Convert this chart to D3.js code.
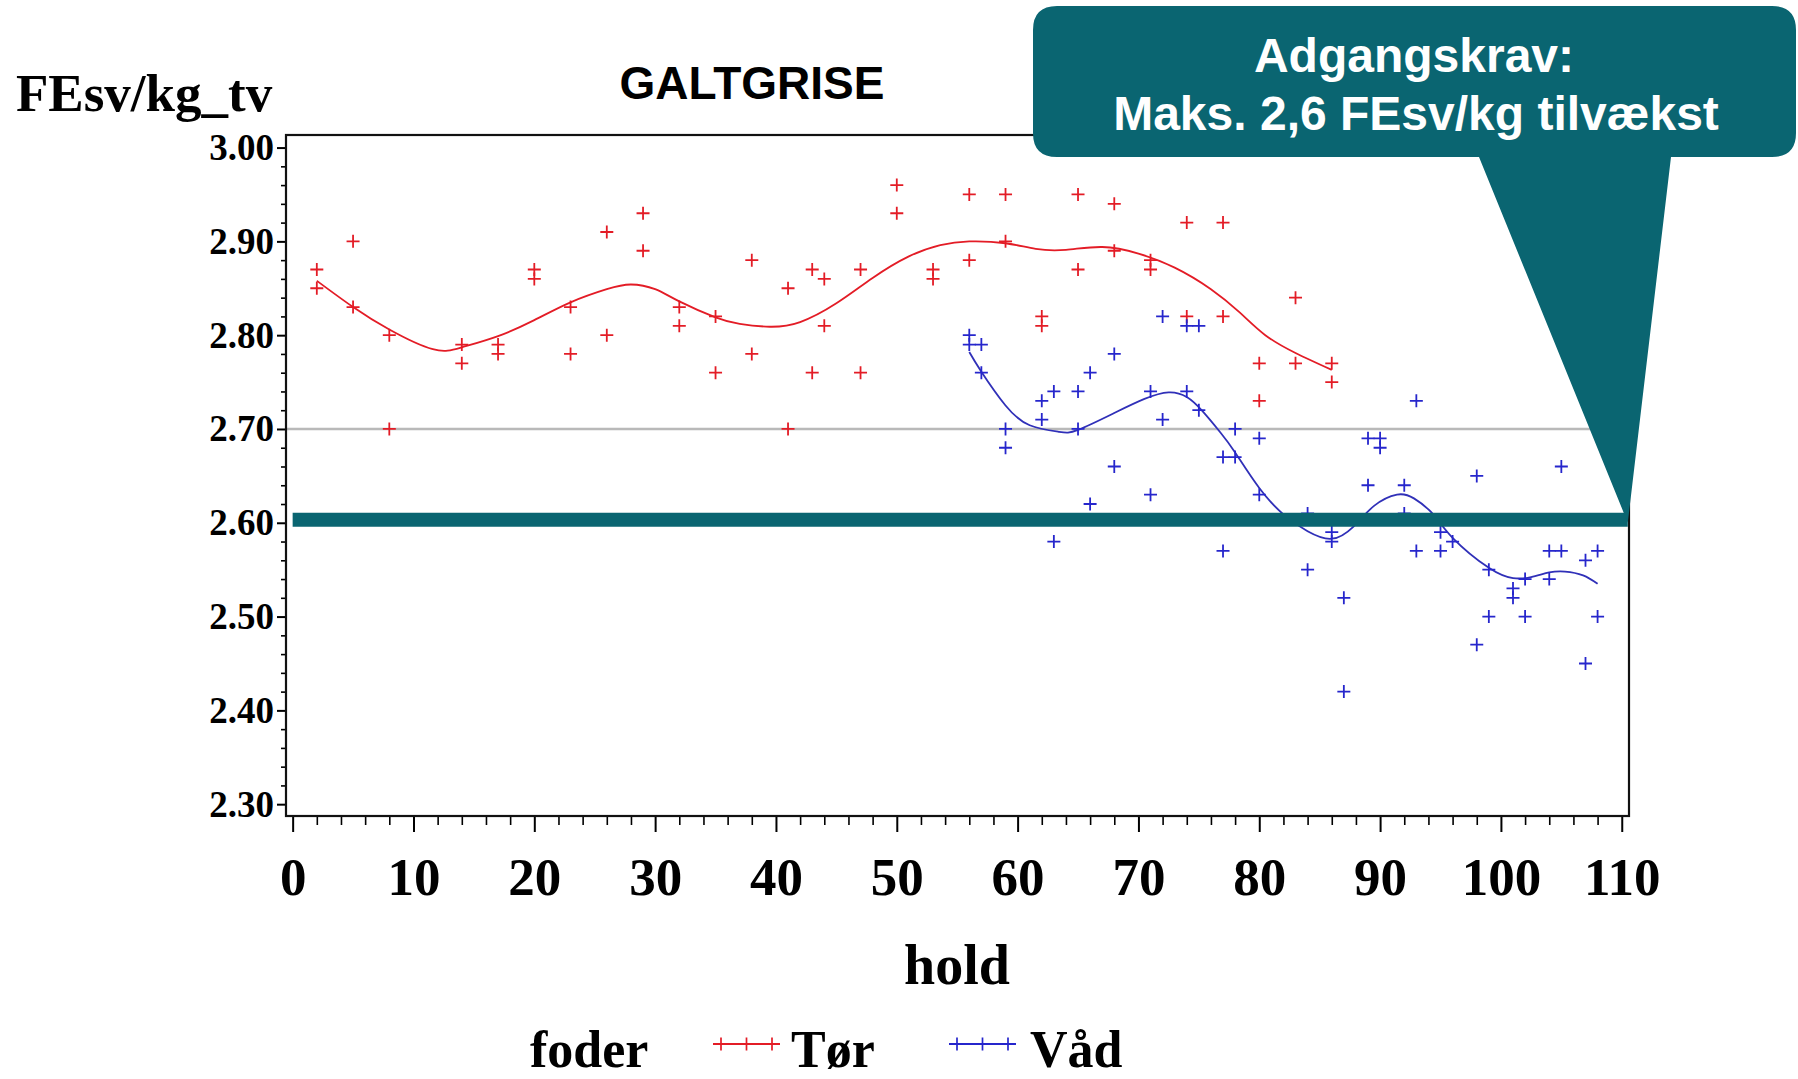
<!DOCTYPE html>
<html>
<head>
<meta charset="utf-8">
<script src="https://cdn.jsdelivr.net/npm/d3@7"></script>
<style>
  html, body { margin: 0; padding: 0; background: #ffffff; }
  svg { display: block; }
  .serif { font-family: "Liberation Serif", "Times New Roman", serif; font-weight: bold; fill: #000; }
  .sans { font-family: "Liberation Sans", Arial, Helvetica, sans-serif; font-weight: bold; }
</style>
</head>
<body>
<svg id="chart" width="1798" height="1079"></svg>
<script>
// Feed conversion per batch (hold), dry feed (Tør) and liquid feed (Våd)
const torPoints = [
  [2, 2.87], [2, 2.85], [5, 2.90], [5, 2.83], [8, 2.80], [8, 2.70],
  [14, 2.79], [14, 2.77], [17, 2.79], [17, 2.78], [20, 2.87], [20, 2.86],
  [23, 2.83], [23, 2.78], [26, 2.91], [26, 2.80], [29, 2.93], [29, 2.89],
  [32, 2.83], [32, 2.81], [35, 2.82], [35, 2.76], [38, 2.88], [38, 2.78],
  [41, 2.85], [41, 2.70], [43, 2.87], [43, 2.76], [44, 2.86], [44, 2.81],
  [47, 2.87], [47, 2.76], [50, 2.96], [50, 2.93], [53, 2.87], [53, 2.86],
  [56, 2.95], [56, 2.88], [59, 2.95], [59, 2.90], [62, 2.82], [62, 2.81],
  [65, 2.95], [65, 2.87], [68, 2.94], [68, 2.89], [71, 2.88], [71, 2.87],
  [74, 2.92], [74, 2.82], [77, 2.92], [77, 2.82], [80, 2.77], [80, 2.73],
  [83, 2.84], [83, 2.77], [86, 2.77], [86, 2.75]
];

const vadPoints = [
  [56, 2.80], [56, 2.79], [57, 2.79], [57, 2.76], [59, 2.70], [59, 2.68],
  [62, 2.73], [62, 2.71], [63, 2.74], [63, 2.58], [65, 2.74], [65, 2.70],
  [66, 2.76], [66, 2.62], [68, 2.78], [68, 2.66], [71, 2.74], [71, 2.63],
  [72, 2.82], [72, 2.71], [74, 2.81], [74, 2.74], [75, 2.81], [75, 2.72],
  [77, 2.67], [77, 2.57], [78, 2.70], [78, 2.67], [80, 2.69], [80, 2.63],
  [84, 2.61], [84, 2.55], [86, 2.59], [86, 2.58], [87, 2.52], [87, 2.42],
  [89, 2.69], [89, 2.64], [90, 2.69], [90, 2.68], [92, 2.64], [92, 2.61],
  [93, 2.73], [93, 2.57], [95, 2.59], [95, 2.57], [96, 2.58],
  [98, 2.65], [98, 2.47], [99, 2.55], [99, 2.50], [101, 2.53], [101, 2.52],
  [102, 2.54], [102, 2.50], [104, 2.57], [104, 2.54], [105, 2.66], [105, 2.57],
  [107, 2.56], [107, 2.45], [108, 2.57], [108, 2.50]
];

// Smoothed trend for each feed type
const torFit = [
  [2, 2.858], [5, 2.830], [8, 2.806], [11.6, 2.785], [14, 2.787], [17, 2.799],
  [20, 2.816], [23, 2.835], [26, 2.849], [28, 2.854], [30, 2.849], [32, 2.836],
  [35, 2.819], [37, 2.812], [39.5, 2.809], [42, 2.814], [45, 2.834],
  [48, 2.861], [51, 2.884], [53.6, 2.896], [56, 2.900], [59, 2.898],
  [61.5, 2.892], [64, 2.891], [67, 2.894], [70, 2.887], [73, 2.872],
  [76, 2.849], [78.4, 2.824], [80.5, 2.800], [83, 2.781], [86, 2.763]
];

const vadFit = [
  [56, 2.782], [57, 2.761], [59, 2.725], [61, 2.704], [63.4, 2.697], [65, 2.699],
  [68, 2.717], [70.5, 2.732], [72.5, 2.739], [74, 2.734], [75.3, 2.719], [76.8, 2.696],
  [78, 2.675], [80, 2.637], [82, 2.609], [84, 2.591], [86, 2.583], [87.8, 2.596],
  [89.5, 2.618], [91.4, 2.630], [92.8, 2.626], [94.4, 2.609], [96, 2.584],
  [99, 2.552], [101, 2.541], [102.5, 2.542], [104, 2.547], [105.3, 2.548],
  [106.8, 2.544], [108, 2.535]
];

const xTicks = [0, 10, 20, 30, 40, 50, 60, 70, 80, 90, 100, 110];
const yTicks = [2.30, 2.40, 2.50, 2.60, 2.70, 2.80, 2.90, 3.00];
const referenceLevel = 2.70;
const limitLevel = 2.6;
const limitRange = [0, 110.5];
const seriesNames = ["Tør", "Våd"];

const red = "#e31c26";
const blue = "#2626cc";
const teal = "#0a6571";

const svg = d3.select("#chart");

const x = d3.scaleLinear().domain([-0.55, 110.6]).range([286, 1629]);
const y = d3.scaleLinear().domain([2.2874, 3.0134]).range([816, 135]);

// x axis: major and minor ticks
const xMinor = d3.range(0, 111, 2).filter(d => d % 10 !== 0);
svg.append("g")
  .attr("transform", "translate(0,816)")
  .call(d3.axisBottom(x).tickValues(xMinor).tickSize(9).tickFormat(""))
  .call(g => g.select(".domain").remove())
  .call(g => g.selectAll("line").attr("stroke", "#000").attr("stroke-width", 1.6));

svg.append("g")
  .attr("transform", "translate(0,816)")
  .call(d3.axisBottom(x).tickValues(xTicks).tickSize(16).tickPadding(25).tickFormat(d3.format("d")))
  .call(g => g.select(".domain").remove())
  .call(g => g.selectAll("line").attr("stroke", "#000").attr("stroke-width", 2))
  .call(g => g.selectAll("text").attr("class", "serif").style("font-size", "53px"));

// y axis: major and minor ticks
const yMinor = d3.range(2.30, 3.001, 0.02).filter(d => Math.abs(d * 10 - Math.round(d * 10)) > 0.01);
svg.append("g")
  .attr("transform", "translate(286,0)")
  .call(d3.axisLeft(y).tickValues(yMinor).tickSize(5).tickFormat(""))
  .call(g => g.select(".domain").remove())
  .call(g => g.selectAll("line").attr("stroke", "#000").attr("stroke-width", 1.6));

svg.append("g")
  .attr("transform", "translate(286,0)")
  .call(d3.axisLeft(y).tickValues(yTicks).tickSize(9).tickPadding(3).tickFormat(d3.format(".2f")))
  .call(g => g.select(".domain").remove())
  .call(g => g.selectAll("line").attr("stroke", "#000").attr("stroke-width", 2))
  .call(g => g.selectAll("text").attr("class", "serif").style("font-size", "37px"));

// reference line at 2.70
svg.append("line")
  .attr("x1", x.range()[0]).attr("x2", x.range()[1])
  .attr("y1", y(referenceLevel)).attr("y2", y(referenceLevel))
  .attr("stroke", "#b9b9b9").attr("stroke-width", 2.5);

// trend curves
const line = d3.line().x(d => x(d[0])).y(d => y(d[1])).curve(d3.curveNatural);
svg.append("path").datum(torFit).attr("d", line)
  .attr("fill", "none").attr("stroke", red).attr("stroke-width", 1.8);
svg.append("path").datum(vadFit).attr("d", line)
  .attr("fill", "none").attr("stroke", "#3030b8").attr("stroke-width", 1.8);

// plus markers
const plusShape = "M-6.5,0H6.5M0,-6.5V6.5";
svg.append("g").selectAll("path").data(torPoints).join("path")
  .attr("transform", d => `translate(${x(d[0])},${y(d[1])})`)
  .attr("d", plusShape)
  .attr("stroke", red).attr("stroke-width", 1.8).attr("fill", "none");
svg.append("g").selectAll("path").data(vadPoints).join("path")
  .attr("transform", d => `translate(${x(d[0])},${y(d[1])})`)
  .attr("d", plusShape)
  .attr("stroke", blue).attr("stroke-width", 1.8).attr("fill", "none");

// plot frame
svg.append("rect")
  .attr("x", x.range()[0]).attr("y", y.range()[1])
  .attr("width", x.range()[1] - x.range()[0]).attr("height", y.range()[0] - y.range()[1])
  .attr("fill", "none").attr("stroke", "#111").attr("stroke-width", 2.2);

// requirement band at 2,6
svg.append("line")
  .attr("x1", x(limitRange[0])).attr("x2", x(limitRange[1]))
  .attr("y1", y(limitLevel) - 3).attr("y2", y(limitLevel) - 3)
  .attr("stroke", teal).attr("stroke-width", 14);

// callout box pointing at the band's end
const bx0 = 1033, by0 = 6, bx1 = 1796, by1 = 157, r = 24;
const tipX = x(limitRange[1]), tipY = y(limitLevel);
const calloutPath = [
  `M${bx0 + r},${by0}`, `H${bx1 - r}`, `Q${bx1},${by0} ${bx1},${by0 + r}`,
  `V${by1 - r}`, `Q${bx1},${by1} ${bx1 - r},${by1}`,
  `H1671`, `L${tipX},${tipY}`, `L1479,${by1}`,
  `H${bx0 + r}`, `Q${bx0},${by1} ${bx0},${by1 - r}`,
  `V${by0 + r}`, `Q${bx0},${by0} ${bx0 + r},${by0}`, "Z"
].join("");
svg.append("path").attr("d", calloutPath).attr("fill", teal);

svg.append("text").attr("class", "sans")
  .attr("x", 1414).attr("y", 72).attr("text-anchor", "middle")
  .attr("fill", "#fff").style("font-size", "48px")
  .text("Adgangskrav:");
svg.append("text").attr("class", "sans")
  .attr("x", 1416).attr("y", 130).attr("text-anchor", "middle")
  .attr("fill", "#fff").style("font-size", "48px")
  .text("Maks. 2,6 FEsv/kg tilvækst");

// titles
svg.append("text").attr("class", "sans")
  .attr("x", 752).attr("y", 99).attr("text-anchor", "middle")
  .attr("fill", "#000").style("font-size", "46px")
  .text("GALTGRISE");

svg.append("text").attr("class", "serif")
  .attr("x", 16).attr("y", 111).style("font-size", "53px")
  .text("FEsv/kg_tv");

svg.append("text").attr("class", "serif")
  .attr("x", 957).attr("y", 984).attr("text-anchor", "middle").style("font-size", "56px")
  .text("hold");

// legend
const legendY = 1044, legendBase = 1067;
svg.append("text").attr("class", "serif")
  .attr("x", 530).attr("y", legendBase).style("font-size", "52px").text("foder");

const legendItems = [
  { name: seriesNames[0], color: red, lineX: 713, textX: 791 },
  { name: seriesNames[1], color: blue, lineX: 949, textX: 1030 }
];
legendItems.forEach(item => {
  const g = svg.append("g");
  g.append("line")
    .attr("x1", item.lineX).attr("x2", item.lineX + 67)
    .attr("y1", legendY).attr("y2", legendY)
    .attr("stroke", item.color).attr("stroke-width", 1.8);
  [8, 33.5, 59].forEach(dx => {
    g.append("path")
      .attr("transform", `translate(${item.lineX + dx},${legendY})`)
      .attr("d", "M-6,0H6M0,-6.5V6.5")
      .attr("stroke", item.color).attr("stroke-width", 1.7);
  });
  g.append("text").attr("class", "serif")
    .attr("x", item.textX).attr("y", legendBase).style("font-size", "52px")
    .text(item.name);
});
</script>
</body>
</html>
